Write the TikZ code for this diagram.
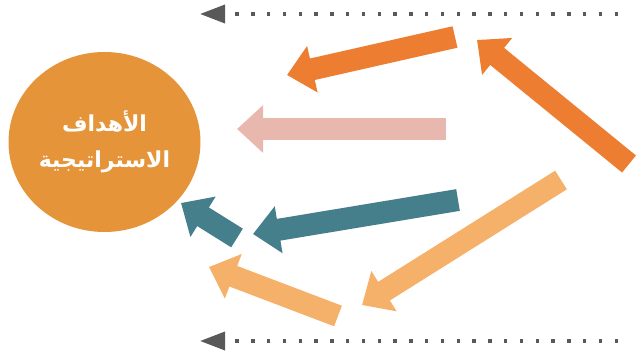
\documentclass[tikz,border=0pt]{standalone}
\usepackage{fontspec}
\usetikzlibrary{arrows.meta,shapes.geometric}
\TeXXeTstate=1
\newfontfamily\arabicfont[Script=Arabic]{DejaVu Sans}
\definecolor{goalorange}{HTML}{E5943A}
\definecolor{darkorange}{HTML}{ED7D31}
\definecolor{lightorange}{HTML}{F5B06A}
\definecolor{rosepink}{HTML}{E8B8AF}
\definecolor{tealblue}{HTML}{467F8C}
\definecolor{dotgray}{HTML}{595959}

\begin{document}
\begin{tikzpicture}[
  x=1pt, y=-1pt,
  goal/.style={ellipse, fill=goalorange, minimum width=192pt, minimum height=180pt,
    inner sep=0pt, text=white, align=center, font=\arabicfont\bfseries\fontsize{22}{36}\selectfont},
  blk/.style={line width=22pt, -{Triangle[length=26pt,width=46pt]}},
  dotarr/.style={draw=dotgray, line width=3.5pt, dash pattern=on 3.5pt off 12.3pt,
    -{Triangle[length=25pt,width=18pt]}}
]
\useasboundingbox (0,0) rectangle (636,352);

\node[goal] (goal) at (104.5,142) {\beginR الأهداف\endR\\\beginR الاستراتيجية\endR};

% dotted guide arrows
\coordinate (topS) at (618,14);
\coordinate (topE) at (200,14);
\coordinate (botS) at (618,341);
\coordinate (botE) at (200,341);
\draw[dotarr] (topS) -- (topE);
\draw[dotarr] (botS) -- (botE);

% dark orange
\coordinate (rT) at (629,164);
\coordinate (rH) at (477,40);
\coordinate (uT) at (455,37);
\coordinate (uH) at (287,75);
\draw[blk, darkorange] (rT) -- (rH);
\draw[blk, darkorange] (uT) -- (uH);

% pink
\coordinate (pT) at (446,129);
\coordinate (pH) at (237,129);
\draw[blk, rosepink] (pT) -- (pH);

% teal
\coordinate (tT) at (458,200);
\coordinate (tH) at (253,234);
\coordinate (sT) at (237,238);
\coordinate (sH) at (181,203);
\draw[blk, tealblue] (tT) -- (tH);
\draw[blk, tealblue] (sT) -- (sH);

% light orange
\coordinate (lT) at (561,180);
\coordinate (lH) at (362,305);
\coordinate (mT) at (338,316);
\coordinate (mH) at (209,267);
\draw[blk, lightorange] (lT) -- (lH);
\draw[blk, lightorange] (mT) -- (mH);
\end{tikzpicture}
\end{document}
